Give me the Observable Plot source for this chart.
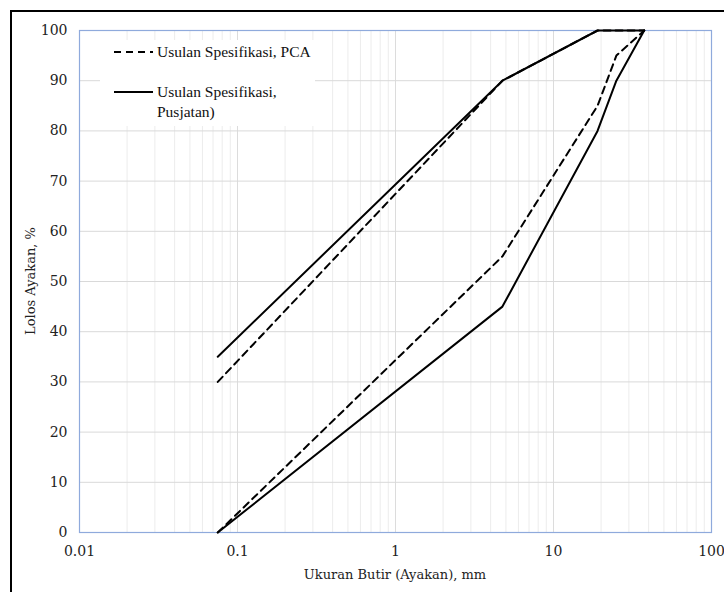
<!DOCTYPE html>
<html>
<head>
<meta charset="utf-8">
<script src="https://cdn.jsdelivr.net/npm/d3@7"></script>
<script src="https://cdn.jsdelivr.net/npm/@observablehq/plot@0.6"></script>
<style>
  html, body { margin: 0; padding: 0; background: #fff; }
  #wrap { position: relative; width: 724px; height: 592px; overflow: hidden; font-family: "DejaVu Serif", "Liberation Serif", serif; }
  #frame { position: absolute; left: 10px; top: 10px; width: 800px; height: 700px; border: 2px solid #000; box-sizing: border-box; pointer-events: none; }
  #legend { position: absolute; left: 100px; top: 40px; width: 215px; height: 86px; background: #fff; font-size: 15.5px; color: #111; font-family: "Liberation Serif", serif; }
  .row { position: absolute; left: 0; display: flex; align-items: flex-start; }
  .row svg { flex: none; }
  .row span { line-height: 20px; }
  #xlabel { position: absolute; left: 79px; width: 632px; top: 567px; text-align: center; font-size: 13px; color: #222; font-family: "DejaVu Serif", serif; }
  #ylabel { position: absolute; left: 30px; top: 281px; transform: translate(-50%, -50%) rotate(-90deg); white-space: nowrap; font-size: 13px; color: #222; font-family: "DejaVu Serif", serif; }
</style>
</head>
<body>
<div id="wrap">
  <div id="chart"></div>
  <div id="legend"></div>
  <div id="xlabel"></div>
  <div id="ylabel"></div>
  <div id="frame"></div>
</div>
<script>
// Sieve sizes (mm)
const sieve = [0.075, 4.75, 19, 25, 37.5];
// Usulan Spesifikasi, PCA (dashed)
const pcaLower = [0, 55, 85, 95, 100];
const pcaUpper = [30, 90, 100, 100, 100];
// Usulan Spesifikasi, Pusjatan (solid)
const pusLower = [0, 45, 80, 90, 100];
const pusUpper = [35, 90, 100, 100, 100];

const xTicks = [0.01, 0.1, 1, 10, 100];
const yTicks = [0, 10, 20, 30, 40, 50, 60, 70, 80, 90, 100];
const seriesNames = ["Usulan Spesifikasi, PCA", "Usulan Spesifikasi,\nPusjatan)"];
const xTitle = "Ukuran Butir (Ayakan), mm";
const yTitle = "Lolos Ayakan, %";

const minorX = [];
for (const d of [0.01, 0.1, 1, 10]) for (let k = 2; k <= 9; k++) minorX.push(+(d * k).toPrecision(3));

function rows(ys, name) {
  return sieve.map((x, i) => ({x, y: ys[i], name}));
}
const pcaData = [...rows(pcaLower, "lower"), ...rows(pcaUpper, "upper")];
const pusData = [...rows(pusLower, "lower"), ...rows(pusUpper, "upper")];

const chart = Plot.plot({
  width: 724,
  height: 592,
  marginLeft: 79,
  marginRight: 13,
  marginTop: 30,
  marginBottom: 60,
  style: {fontFamily: '"DejaVu Serif", "Liberation Serif", serif', fontSize: "14px", color: "#222", background: "transparent"},
  x: {type: "log", domain: [0.01, 100], ticks: xTicks, tickFormat: d => String(d), tickSize: 0, tickPadding: 14, label: null},
  y: {domain: [0, 100], ticks: yTicks, tickSize: 0, tickPadding: 12, label: null},
  marks: [
    Plot.ruleX(minorX, {stroke: "#ececec", strokeWidth: 1}),
    Plot.ruleX(xTicks.slice(1, -1), {stroke: "#dcdcdc", strokeWidth: 1}),
    Plot.ruleY(yTicks.slice(1, -1), {stroke: "#d9d9d9", strokeWidth: 1}),
    Plot.frame({stroke: "#8faadc", strokeWidth: 1.2}),
    Plot.line(pcaData, {x: "x", y: "y", z: "name", stroke: "#000", strokeWidth: 2, strokeDasharray: "7,5"}),
    Plot.line(pusData, {x: "x", y: "y", z: "name", stroke: "#000", strokeWidth: 2})
  ]
});
document.getElementById("chart").appendChild(chart);
document.getElementById("xlabel").textContent = xTitle;
document.getElementById("ylabel").textContent = yTitle;

// Legend
const legend = document.getElementById("legend");
const items = [{name: seriesNames[0], dash: "7,5", top: 2}, {name: seriesNames[1], dash: null, top: 42}];
for (const it of items) {
  const row = document.createElement("div");
  row.className = "row";
  row.style.top = it.top + "px";
  row.style.left = "14px";
  const sv = d3.create("svg").attr("width", 43).attr("height", 20);
  sv.append("line").attr("x1", 0).attr("x2", 39).attr("y1", 10).attr("y2", 10)
    .attr("stroke", "#000").attr("stroke-width", 2).attr("stroke-dasharray", it.dash);
  row.appendChild(sv.node());
  const sp = document.createElement("span");
  sp.innerHTML = it.name.replace("\n", "<br>");
  row.appendChild(sp);
  legend.appendChild(row);
}
</script>
</body>
</html>
